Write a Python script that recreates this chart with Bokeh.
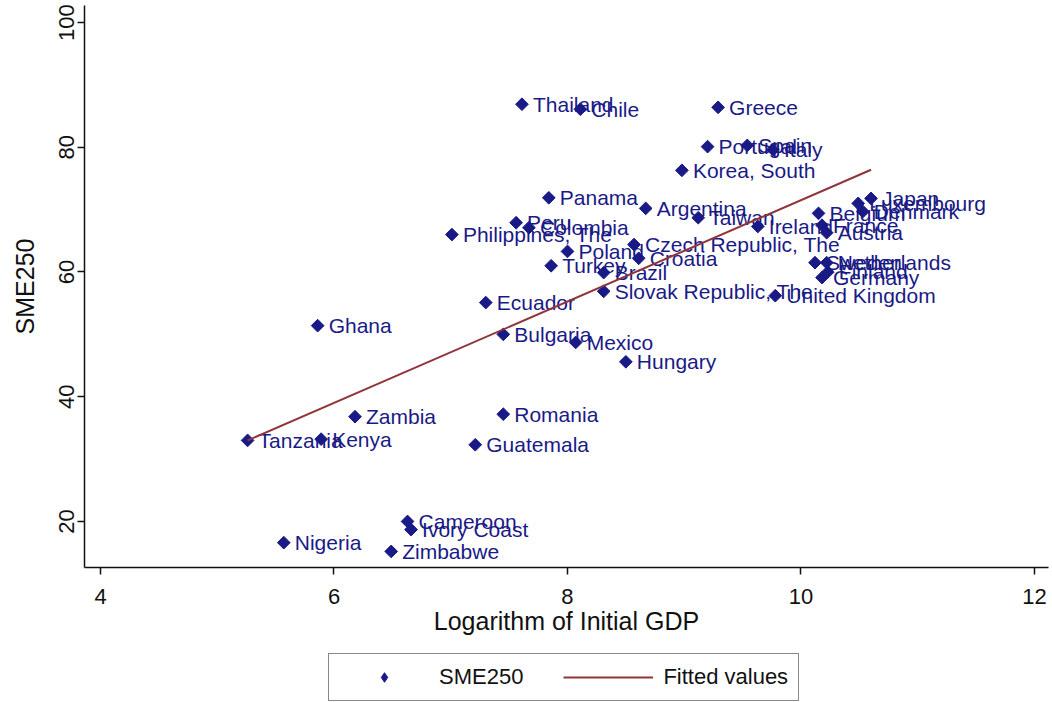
import math
from bokeh.plotting import figure
from bokeh.layouts import column
from bokeh.models import ColumnDataSource, Legend, LegendItem, Range1d, FixedTicker
from bokeh.core.properties import value
from bokeh.embed import file_html
from bokeh.resources import INLINE

countries = [
    "Thailand", "Chile", "Greece", "Portugal", "Spain", "Italy", "Korea, South",
    "Panama", "Argentina", "Taiwan", "Ireland", "Peru", "Colombia",
    "Philippines, The", "Czech Republic, The", "Poland", "Croatia", "Turkey",
    "Brazil", "Slovak Republic, The", "Ecuador", "Ghana", "Bulgaria", "Mexico",
    "Hungary", "Zambia", "Romania", "Kenya", "Tanzania", "Guatemala",
    "Cameroon", "Ivory Coast", "Nigeria", "Zimbabwe", "United Kingdom",
    "Japan", "Luxembourg", "Denmark", "Belgium", "France", "Austria",
    "Sweden", "Netherlands", "Finland", "Germany",
]
log_gdp = [
    7.61, 8.11, 9.29, 9.20, 9.54, 9.76, 8.98,
    7.84, 8.67, 9.12, 9.63, 7.56, 7.67,
    7.01, 8.57, 8.00, 8.61, 7.86,
    8.31, 8.31, 7.30, 5.86, 7.45, 8.07,
    8.50, 6.18, 7.45, 5.89, 5.26, 7.21,
    6.63, 6.66, 5.57, 6.49, 9.78,
    10.60, 10.49, 10.53, 10.15, 10.18, 10.22,
    10.12, 10.22, 10.23, 10.18,
]
sme250 = [
    86.9, 86.1, 86.4, 80.1, 80.3, 79.6, 76.3,
    71.9, 70.2, 68.7, 67.3, 67.9, 67.1,
    66.0, 64.4, 63.3, 62.2, 61.0,
    59.9, 56.9, 55.1, 51.4, 50.0, 48.7,
    45.6, 36.8, 37.2, 33.2, 33.0, 32.3,
    20.0, 18.7, 16.6, 15.2, 56.2,
    71.8, 71.0, 69.7, 69.4, 67.5, 66.3,
    61.5, 61.5, 60.0, 59.1,
]
# fitted values (endpoints of the regression line)
fit_x = [5.26, 10.60]
fit_y = [33.0, 76.4]

x_ticks = [4, 6, 8, 10, 12]
y_ticks = [20, 40, 60, 80, 100]
legend_labels = ["SME250", "Fitted values"]

NAVY = "#1a1a86"
MAROON = "#90353b"
FONT = "Liberation Sans"

src = ColumnDataSource(dict(x=log_gdp, y=sme250, name=countries))
fit_src = ColumnDataSource(dict(x=fit_x, y=fit_y))

# ---- main scatter plot ----
p = figure(width=1052, height=652, output_backend="svg",
           toolbar_location=None,
           x_range=Range1d(3.863, 12.12), y_range=Range1d(12.62, 102.73),
           min_border_left=84, min_border_right=4, min_border_top=5,
           min_border_bottom=85)
p.outline_line_color = None
p.xgrid.visible = False
p.ygrid.visible = False
p.background_fill_color = "white"

p.scatter("x", "y", source=src, marker="square", angle=math.pi / 4,
          size=9, fill_color=NAVY, line_color=NAVY)
p.text("x", "y", text="name", source=src, x_offset=11, text_baseline="middle",
       text_align="left", text_font=value(FONT), text_font_size="21px",
       text_color=NAVY)
p.line("x", "y", source=fit_src, line_color=MAROON, line_width=2)

for ax in (p.xaxis[0], p.yaxis[0]):
    ax.axis_line_color = "#111111"
    ax.axis_line_width = 1.5
    ax.major_tick_line_color = "#111111"
    ax.major_tick_line_width = 1.5
    ax.major_tick_out = 7
    ax.major_tick_in = 0
    ax.minor_tick_out = 0
    ax.minor_tick_in = 0
    ax.major_label_text_font = FONT
    ax.major_label_text_font_size = "22px"
    ax.major_label_text_color = "#111111"
    ax.axis_label_text_font = FONT
    ax.axis_label_text_font_size = "25px"
    ax.axis_label_text_font_style = "normal"
    ax.axis_label_text_color = "#111111"

p.xaxis.ticker = FixedTicker(ticks=x_ticks)
p.yaxis.ticker = FixedTicker(ticks=y_ticks)
p.xaxis.axis_label = "Logarithm of Initial GDP"
p.yaxis.axis_label = "SME250"
p.xaxis.major_label_standoff = 14
p.xaxis.axis_label_standoff = 0
p.yaxis.major_label_orientation = "vertical"
p.yaxis.major_label_standoff = 3
p.yaxis.axis_label_standoff = 18

# ---- legend strip below the plot (same data, outside its visible range) ----
p2 = figure(width=1052, height=50, output_backend="svg", toolbar_location=None,
            x_axis_type=None, y_axis_type=None,
            x_range=Range1d(0, 1), y_range=Range1d(0, 1),
            min_border_left=0, min_border_right=0, min_border_top=0,
            min_border_bottom=0)
p2.outline_line_color = None
p2.background_fill_color = "white"
lg_pts = p2.scatter("x", "y", source=src, marker="diamond",
                    size=13, fill_color=NAVY, line_color=NAVY)
lg_fit = p2.line("x", "y", source=fit_src, line_color=MAROON, line_width=2)

legend = Legend(items=[LegendItem(label=legend_labels[0], renderers=[lg_pts]),
                       LegendItem(label=legend_labels[1], renderers=[lg_fit])],
                orientation="horizontal", location=(244, 1),
                glyph_width=90, glyph_height=24, label_standoff=10,
                spacing=40, padding=10, margin=0,
                label_text_font=FONT, label_text_font_size="22px",
                label_text_color="#111111",
                border_line_color="#111111", border_line_width=1.5,
                background_fill_color="white")
p2.add_layout(legend, "center")

open("out.html", "w").write(file_html(column(p, p2), INLINE))
